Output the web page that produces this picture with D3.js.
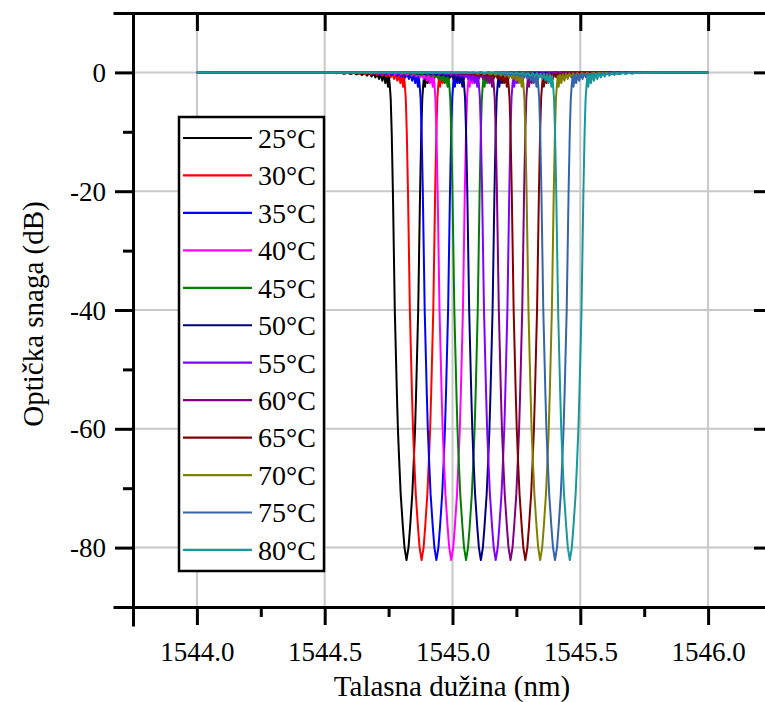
<!DOCTYPE html>
<html>
<head>
<meta charset="utf-8">
<style>
  * { font-family: "Liberation Serif", "Times New Roman", Times, serif !important; }
  html, body { margin: 0; padding: 0; background: #fff; }
</style>
<script src="https://cdn.jsdelivr.net/npm/d3@7"></script>
</head>
<body>
<svg id="chart" width="765" height="702" style="display:block; font-family: 'Liberation Serif'"></svg>
<script>
// ---- data ----
const seriesLabels = ["25°C","30°C","35°C","40°C","45°C","50°C","55°C","60°C","65°C","70°C","75°C","80°C"];
const seriesColors = ["#000000","#ff0000","#0000ff","#ff00ff","#008000","#000080","#8000ff","#800080","#800000","#808000","#3464aa","#189898"];
// centre (Bragg) wavelengths of each dip, nm
const centerWavelengths = [1544.820, 1544.879, 1544.937, 1544.995, 1545.053, 1545.111, 1545.169, 1545.227, 1545.285, 1545.343, 1545.401, 1545.459];
// one side of the dip profile: offset from centre (nm) and transmission (dB)
const profileOffset = [0, 0.0078, 0.0141, 0.0227, 0.0286, 0.0336, 0.0376, 0.0458, 0.0532, 0.0579, 0.0618, 0.0657, 0.0689,
  0.0724, 0.0775, 0.0829, 0.0884, 0.0947, 0.1009, 0.1076, 0.1142, 0.1213, 0.1291, 0.1369, 0.1448, 0.1545, 0.1643,
  0.1741, 0.1839, 0.1956, 0.2074, 0.2191, 0.2308, 0.2445, 0.2582, 0.2739, 0.2895, 0.3052, 0.3208, 0.3365, 0.3521];
const profileDb = [-82.1, -80, -76.5, -71, -65.3, -60, -54, -40, -20, -10, -4.4, -2.0, -0.6,
  -2.4, -0.4, -1.8, -0.3, -1.4, -0.25, -1.1, -0.2, -0.85, -0.15, -0.7, -0.12, -0.55, -0.1,
  -0.45, -0.08, -0.35, -0.06, -0.28, -0.05, -0.22, -0.04, -0.16, -0.03, -0.11, -0.02, -0.07, 0];
const spanStart = 1544.0, spanEnd = 1546.0;   // measured span of every trace
const xTicks = [1544.0, 1544.5, 1545.0, 1545.5, 1546.0];
const xMinorTicks = [1543.75, 1544.25, 1544.75, 1545.25, 1545.75, 1546.25];
const yTicks = [0, -20, -40, -60, -80];
const yMinorTicks = [10, -10, -30, -50, -70, -90];
const xDomain = [1543.75, 1546.25];
const yDomain = [-90, 10];

// ---- layout ----
const svg = d3.select("#chart");
const L = 133, R = 772, T = 13, B = 607;
const xScale = d3.scaleLinear().domain(xDomain).range([L, R]);
const yScale = d3.scaleLinear().domain(yDomain).range([B, T]);
const FONT = "Liberation Serif";

// grid
const grid = svg.append("g").attr("stroke", "#c8c8c8").attr("stroke-width", 2);
grid.selectAll("line.gx").data(xTicks).join("line")
  .attr("x1", d => xScale(d)).attr("x2", d => xScale(d)).attr("y1", T).attr("y2", B);
grid.selectAll("line.gy").data(yTicks).join("line")
  .attr("x1", L).attr("x2", R).attr("y1", d => yScale(d)).attr("y2", d => yScale(d));

// traces
function traceFor(c) {
  const pts = [[spanStart, 0]];
  for (let i = profileOffset.length - 1; i >= 0; i--) pts.push([c - profileOffset[i], profileDb[i]]);
  for (let i = 1; i < profileOffset.length; i++) pts.push([c + profileOffset[i], profileDb[i]]);
  pts.push([spanEnd, 0]);
  return pts;
}
const lineGen = d3.line().x(d => xScale(d[0])).y(d => yScale(d[1]));
svg.append("clipPath").attr("id", "clip").append("rect")
  .attr("x", L).attr("y", T).attr("width", R - L).attr("height", B - T);
svg.append("g").attr("clip-path", "url(#clip)")
  .selectAll("path").data(centerWavelengths).join("path")
  .attr("d", c => lineGen(traceFor(c)))
  .attr("fill", "none")
  .attr("stroke", (c, i) => seriesColors[i])
  .attr("stroke-width", 2)
  .attr("stroke-linejoin", "round");

// axes
const bottomAxis = d3.axisBottom(xScale).tickValues(xTicks).tickSize(18).tickFormat(d => d.toFixed(1));
const bottomMinor = d3.axisBottom(xScale).tickValues(xMinorTicks).tickSize(10).tickFormat("");
const leftAxis = d3.axisLeft(yScale).tickValues(yTicks).tickSize(18).tickFormat(d => d.toFixed(0));
const leftMinor = d3.axisLeft(yScale).tickValues(yMinorTicks).tickSize(10).tickFormat("");
const topAxis = d3.axisBottom(xScale).tickValues(xTicks).tickSize(18).tickFormat("");
const rightAxis = d3.axisRight(yScale).tickValues(yTicks).tickSize(18).tickFormat("");

function style(g) {
  g.attr("font-family", FONT).attr("font-size", 27);
  g.select(".domain").attr("stroke", "#000").attr("stroke-width", 3);
  g.selectAll(".tick line").attr("stroke", "#000").attr("stroke-width", 3);
  g.selectAll(".tick text").attr("font-family", FONT).style("font-family", FONT)
    .style("font-size", "27px").attr("fill", "#000");
}
svg.append("g").attr("transform", `translate(0,${B})`).call(bottomMinor).call(style);
svg.append("g").attr("transform", `translate(0,${B})`).call(bottomAxis).call(style)
  .selectAll(".tick text").attr("y", 54).attr("dy", 0);
svg.append("g").attr("transform", `translate(${L},0)`).call(leftMinor).call(style);
svg.append("g").attr("transform", `translate(${L},0)`).call(leftAxis).call(style)
  .selectAll(".tick text").attr("x", -27).attr("dy", "0.34em");
svg.append("g").attr("transform", `translate(0,${T})`).call(topAxis).call(style);
svg.append("g").attr("transform", `translate(${R},0)`).call(rightAxis).call(g => {
  style(g); g.selectAll(".tick line").attr("x2", -18);
});
svg.selectAll(".domain").attr("stroke-linecap", "square");

// axis titles
svg.append("text").attr("x", 452).attr("y", 696)
  .attr("text-anchor", "middle").attr("font-family", FONT).style("font-family", FONT)
  .style("font-size", "29px").text("Talasna dužina (nm)");
svg.append("text").attr("transform", `translate(43,${(T + B) / 2 + 4}) rotate(-90)`)
  .attr("text-anchor", "middle").attr("font-family", FONT).style("font-family", FONT)
  .style("font-size", "29px").text("Optička snaga (dB)");

// legend
const lg = svg.append("g");
lg.append("rect").attr("x", 179).attr("y", 117).attr("width", 145).attr("height", 454)
  .attr("fill", "#fff").attr("stroke", "#000").attr("stroke-width", 2.5);
const rows = lg.selectAll("g.row").data(seriesLabels).join("g")
  .attr("transform", (d, i) => `translate(0,${138 + i * 37.45})`);
rows.append("line").attr("x1", 183).attr("x2", 252).attr("y1", 0).attr("y2", 0)
  .attr("stroke", (d, i) => seriesColors[i]).attr("stroke-width", 2.2);
rows.append("text").attr("x", 258).attr("y", 0).attr("dy", "0.35em")
  .attr("font-family", FONT).style("font-family", FONT).style("font-size", "28px").text(d => d);
</script>
</body>
</html>
